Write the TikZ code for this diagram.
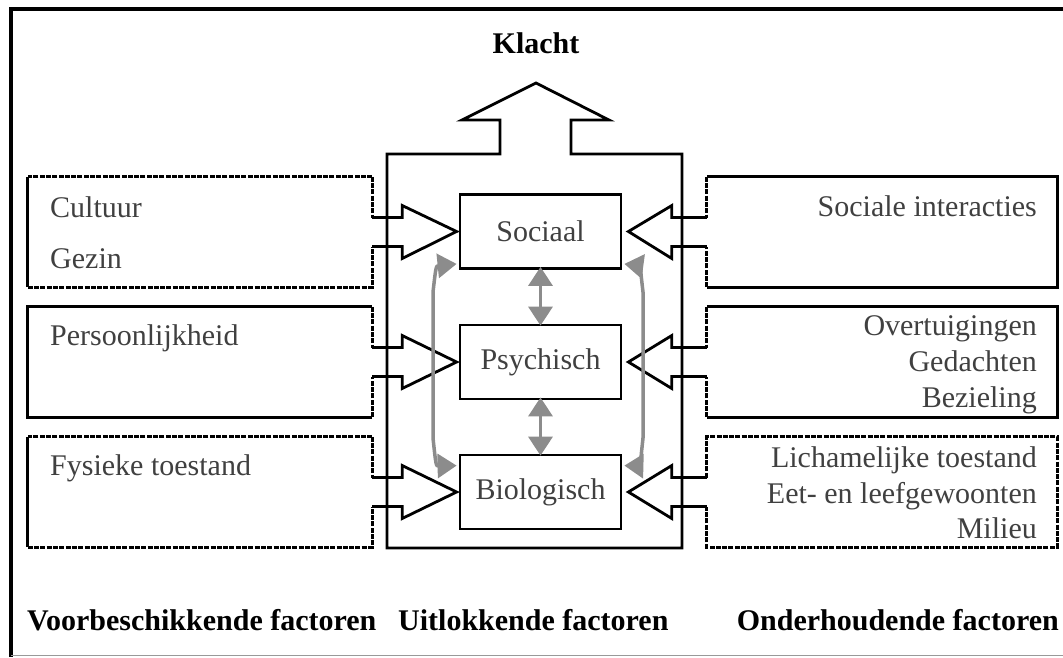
\documentclass[tikz,border=0pt]{standalone}
\usepackage{fontspec}
\setmainfont{Liberation Serif}
\usetikzlibrary{calc,arrows.meta}
\begin{document}
\begin{tikzpicture}[x=1pt,y=-1pt,
  ln/.style={line width=2.8pt, line join=miter},
  dsh/.style={ln, dash pattern=on 5pt off 1.3pt},
  lbox/.style={draw=none, minimum width=344pt, minimum height=110pt, inner sep=0pt},
  rbox/.style={draw=none, minimum width=350pt, minimum height=110pt, inner sep=0pt},
  inner/.style={draw, ln, minimum width=161pt, minimum height=74pt, inner sep=0pt, font=\fontsize{30}{36}\selectfont, text=black!75},
  txt/.style={font=\fontsize{30}{36}\selectfont, text=black!75, inner sep=0pt},
  ttl/.style={font=\fontsize{30}{36}\selectfont\bfseries, inner sep=0pt},
  gtip/.tip={Triangle[width=24pt,length=19pt,fill=black!45]},
  garrow/.style={draw=black!45, line width=3.5pt, gtip-gtip}
]
\useasboundingbox (0,0) rectangle (1063,657);
% frame
\draw[line width=3.5pt] (11,657) -- (11,9) -- (1063,9);
\draw[black!40, line width=1.2pt] (11,655.5) -- (1063,655.5);

% inner boxes
\node[inner] (S) at (540.5,231.5) {Sociaal};
\node[inner] (P) at (540.5,362) {Psychisch};
\node[inner] (B) at (540.5,492) {Biologisch};

% side boxes (areas)
\node[lbox] (L1) at (200,232) {};
\node[lbox] (L2) at (200,362) {};
\node[lbox] (L3) at (200,492) {};
\node[rbox] (R1) at (882,232) {};
\node[rbox] (R2) at (882,362) {};
\node[rbox] (R3) at (882,492) {};

% left box outlines
\draw[dsh] (L1.north east) -- (L1.north west);
\draw[ln] (L1.north west) -- (L1.south west);
\draw[dsh] (L1.south west) -- (L1.south east) -- ($(L1.east)+(0,14.5)$);
\draw[dsh] (L1.north east) -- ($(L1.east)+(0,-14.5)$);

\draw[ln] (L2.north east) -- (L2.north west) -- (L2.south west) -- (L2.south east);
\draw[dsh] (L2.south east) -- ($(L2.east)+(0,14.5)$);
\draw[dsh] (L2.north east) -- ($(L2.east)+(0,-14.5)$);

\draw[dsh] (L3.north east) -- (L3.north west);
\draw[ln] (L3.north west) -- (L3.south west);
\draw[dsh] (L3.south west) -- (L3.south east) -- ($(L3.east)+(0,14.5)$);
\draw[dsh] (L3.north east) -- ($(L3.east)+(0,-14.5)$);

% left block arrows
\draw[ln] ($(L1.east)+(0,-14.5)$) -- ++(30,0) -- ++(0,-12) -- ([xshift=-2pt]S.west) -- ($(L1.east)+(30,26.5)$) -- ++(0,-12) -- ($(L1.east)+(0,14.5)$);
\draw[ln] ($(L2.east)+(0,-14.5)$) -- ++(30,0) -- ++(0,-12) -- ([xshift=-2pt]P.west) -- ($(L2.east)+(30,26.5)$) -- ++(0,-12) -- ($(L2.east)+(0,14.5)$);
\draw[ln] ($(L3.east)+(0,-14.5)$) -- ++(30,0) -- ++(0,-12) -- ([xshift=-2pt]B.west) -- ($(L3.east)+(30,26.5)$) -- ++(0,-12) -- ($(L3.east)+(0,14.5)$);

% right box outlines
\draw[ln] (R1.north west) -- (R1.north east) -- (R1.south east) -- (R1.south west);
\draw[dsh] (R1.north west) -- ($(R1.west)+(0,-14.5)$);
\draw[dsh] (R1.south west) -- ($(R1.west)+(0,14.5)$);

\draw[ln] (R2.north west) -- (R2.north east) -- (R2.south east) -- (R2.south west);
\draw[dsh] (R2.north west) -- ($(R2.west)+(0,-14.5)$);
\draw[dsh] (R2.south west) -- ($(R2.west)+(0,14.5)$);

\draw[dsh] ($(R3.west)+(0,-14.5)$) -- (R3.north west) -- (R3.north east) -- (R3.south east) -- (R3.south west) -- ($(R3.west)+(0,14.5)$);

% right block arrows
\draw[ln] ($(R1.west)+(0,-14.5)$) -- ++(-35,0) -- ++(0,-12) -- ([xshift=6pt]S.east) -- ($(R1.west)+(-35,26.5)$) -- ++(0,-12) -- ($(R1.west)+(0,14.5)$);
\draw[ln] ($(R2.west)+(0,-14.5)$) -- ++(-35,0) -- ++(0,-12) -- ([xshift=6pt]P.east) -- ($(R2.west)+(-35,26.5)$) -- ++(0,-12) -- ($(R2.west)+(0,14.5)$);
\draw[ln] ($(R3.west)+(0,-14.5)$) -- ++(-35,0) -- ++(0,-12) -- ([xshift=6pt]B.east) -- ($(R3.west)+(-35,26.5)$) -- ++(0,-12) -- ($(R3.west)+(0,14.5)$);

% centre shape with Klacht arrow
\node[ttl, anchor=base] (K) at (536,53) {Klacht};
\draw[ln] (387,548) -- (387,154) -- (500,154) -- (500,120) -- (462,120) -- (536,83) -- (609,120) -- (571,120) -- (571,154) -- (682,154) -- (682,548) -- cycle;

% grey interaction arrows
\draw[garrow] ([yshift=3pt]S.south) -- ([yshift=-2pt]P.north);
\draw[garrow] ([yshift=3pt]P.south) -- ([yshift=-2pt]B.north);
\draw[garrow] ([shift={(-2,-6)}]S.south west) .. controls (436,266) .. (433,292) -- (433,438) .. controls (436,466) .. ([shift={(-2,12)}]B.north west);
\draw[garrow] ([shift={(2,-6)}]S.south east) .. controls (640,266) .. (643,292) -- (643,438) .. controls (640,466) .. ([shift={(2,12)}]B.north east);

% texts in side boxes
\node[txt, anchor=base west] (c1) at (50,217) {Cultuur};
\node[txt, anchor=base west] (c2) at (50,268) {Gezin};
\node[txt, anchor=base west] (c3) at (50,345) {Persoonlijkheid};
\node[txt, anchor=base west] (c4) at (50,475) {Fysieke toestand};
\node[txt, anchor=base east] (d1) at (1037,216) {Sociale interacties};
\node[txt, anchor=base east] (d2) at (1037,335) {Overtuigingen};
\node[txt, anchor=base east] (d3) at (1037,371) {Gedachten};
\node[txt, anchor=base east] (d4) at (1037,407) {Bezieling};
\node[txt, anchor=base east] (d5) at (1037,467) {Lichamelijke toestand};
\node[txt, anchor=base east] (d6) at (1037,503) {Eet- en leefgewoonten};
\node[txt, anchor=base east] (d7) at (1037,538) {Milieu};

% bottom titles
\node[ttl, anchor=base west] (f1) at (27,630) {Voorbeschikkende factoren};
\node[ttl, anchor=base west] (f2) at (398,630) {Uitlokkende factoren};
\node[ttl, anchor=base east] (f3) at (1059,630) {Onderhoudende factoren};
\end{tikzpicture}
\end{document}
